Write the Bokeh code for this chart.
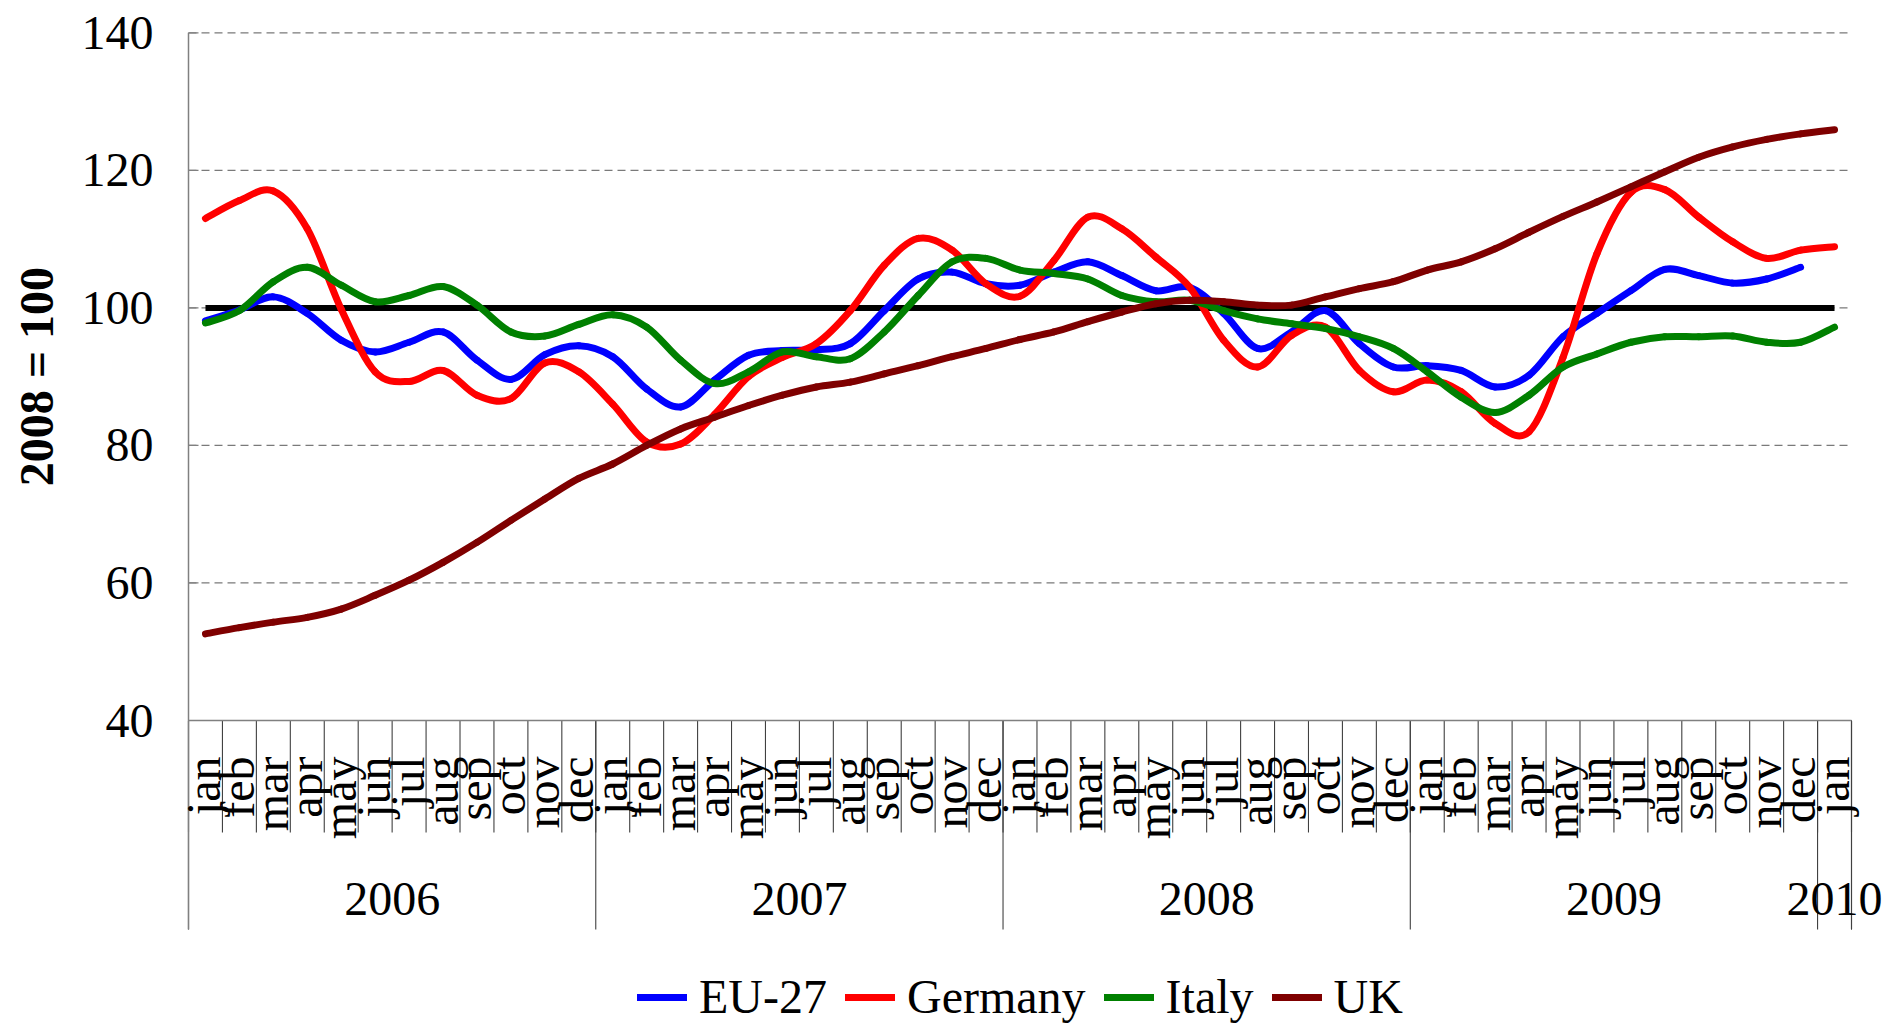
import numpy as np
from bokeh.plotting import figure
from bokeh.models import Range1d, Legend, LegendItem
from bokeh.core.properties import value
from bokeh.embed import file_html
from bokeh.resources import INLINE

# ---------------- data ----------------
months = ["jan", "feb", "mar", "apr", "may", "jun", "jul", "aug", "sep", "oct", "nov", "dec"] * 4 + ["jan"]
years = ["2006", "2007", "2008", "2009", "2010"]
months_per_year = [12, 12, 12, 12, 1]
y_ticks = [40, 60, 80, 100, 120, 140]
y_tick_labels = ["40", "60", "80", "100", "120", "140"]
grid_ticks = [60, 80, 100, 120, 140]
y_title = "2008 = 100"

eu27 = [98.1, 99.7, 101.6, 99.2, 95.3, 93.6, 95.0, 96.5, 92.4, 89.6, 93.2, 94.5,
        92.9, 88.2, 85.6, 89.5, 93.1, 93.8, 93.9, 94.8, 99.6, 104.2, 105.2, 103.5,
        103.3, 105.2, 106.7, 104.7, 102.5, 103.0, 99.2, 94.1, 96.5, 99.6, 94.8, 91.4,
        91.6, 90.9, 88.5, 90.2, 95.8, 99.2, 102.5, 105.6, 104.7, 103.6, 104.2, 105.9]
germany = [113.0, 115.6, 117.0, 111.5, 99.8, 90.7, 89.3, 90.9, 87.3, 86.8, 92.0, 90.7,
           86.0, 80.5, 80.2, 84.5, 90.0, 92.8, 94.8, 99.6, 106.2, 110.1, 108.4, 103.5,
           101.7, 106.9, 113.2, 111.5, 107.4, 103.0, 95.3, 91.4, 96.0, 97.2, 90.9, 87.8,
           89.5, 87.8, 83.2, 82.0, 92.8, 107.9, 116.8, 117.2, 113.2, 109.6, 107.2, 108.4, 108.9]
italy = [97.8, 99.6, 103.8, 105.9, 103.3, 100.9, 101.8, 103.1, 100.4, 96.5, 95.9, 97.6,
         99.0, 97.2, 92.4, 89.0, 90.7, 93.6, 92.9, 92.6, 96.5, 101.8, 106.7, 107.2,
         105.5, 105.0, 104.2, 101.8, 100.9, 101.1, 99.6, 98.4, 97.7, 97.0, 95.8, 94.1,
         90.7, 87.0, 84.8, 87.3, 91.4, 93.3, 95.0, 95.8, 95.8, 95.9, 95.0, 95.0, 97.2]
uk = [52.6, 53.5, 54.3, 55.0, 56.2, 58.2, 60.4, 63.0, 65.9, 69.1, 72.2, 75.2,
      77.3, 80.0, 82.4, 84.1, 85.8, 87.3, 88.5, 89.2, 90.4, 91.6, 92.9, 94.1,
      95.4, 96.5, 98.0, 99.4, 100.6, 101.1, 100.9, 100.4, 100.4, 101.6, 102.8, 103.8,
      105.5, 106.7, 108.6, 111.0, 113.3, 115.4, 117.6, 119.8, 121.9, 123.4, 124.5, 125.3, 125.9]
base = [100] * 49

series = [("EU-27", eu27, "#0000ff"), ("Germany", germany, "#ff0000"),
          ("Italy", italy, "#008000"), ("UK", uk, "#7f0000")]

# ---------------- geometry (page pixels) ----------------
W, H = 1885, 1024
AXIS_COL_PX = 188                 # page column of the value axis
PLOT_RIGHT = 1851                 # right end of the category area
N = len(months)
PXM = (PLOT_RIGHT - AXIS_COL_PX) / N  # px per month
Y140 = 32.3                       # pixel row of the 140 line
PXU = 687.7 / 100.0               # px per value unit
Y_END = 140 + Y140 / PXU
Y_START = Y_END - H / PXU
X_START = -AXIS_COL_PX / PXM
X_END = (W - AXIS_COL_PX) / PXM
MID = 16                          # baseline -> text middle, px (48px font)


def ydat(r):
    """pixel row -> data value"""
    return 140 - (r - Y140) / PXU


def xoff(px):
    """horizontal pixel distance -> months"""
    return px / PXM


FONT = value("Liberation Serif")
AX_COL = "#808080"
SEP_COL = "#404040"

p = figure(width=W, height=H, output_backend="svg", toolbar_location=None,
           x_range=Range1d(X_START, X_END), y_range=Range1d(Y_START, Y_END),
           x_axis_location=None, y_axis_location=None, title=None,
           min_border_left=0, min_border_right=0, min_border_top=0, min_border_bottom=0)
p.outline_line_color = None
p.background_fill_color = "white"
p.border_fill_color = "white"
p.grid.visible = False

# dashed horizontal gridlines over the category area
p.segment(x0=[0] * len(grid_ticks), y0=grid_ticks, x1=[N] * len(grid_ticks), y1=grid_ticks,
          line_color="#7a7a7a", line_width=1.2, line_dash="8 5")

# value axis: line, inward ticks, labels, title
p.segment(x0=[0] * len(y_ticks), y0=y_ticks, x1=[xoff(10)] * len(y_ticks), y1=y_ticks,
          line_color=AX_COL, line_width=1.2)
p.text(x=[xoff(-35)] * len(y_ticks), y=y_ticks, text=y_tick_labels, text_align="right",
       text_baseline="middle", text_font=FONT, text_font_size="48px", text_color="black")
p.text(x=[xoff(52 - MID - AXIS_COL_PX)], y=[(y_ticks[0] + y_ticks[-1]) / 2], text=[y_title],
       angle=np.pi / 2, text_align="center", text_baseline="middle", text_font=FONT,
       text_font_style="bold", text_font_size="48px", text_color="black")

# category axis line and separators
x_bounds = np.arange(N + 1)
p.segment(x0=x_bounds, y0=[y_ticks[0]] * len(x_bounds), x1=x_bounds,
          y1=[ydat(832)] * len(x_bounds), line_color=SEP_COL, line_width=1.1)
year_starts = np.concatenate([[0], np.cumsum(months_per_year)])
year_lines = np.concatenate([year_starts, [N]])
p.segment(x0=year_lines, y0=[y_ticks[0]] * len(year_lines), x1=year_lines,
          y1=[ydat(929)] * len(year_lines), line_color=SEP_COL, line_width=1.1)
p.segment(x0=[0], y0=[y_ticks[-1]], x1=[0], y1=[ydat(929)], line_color=AX_COL, line_width=1.5)
p.segment(x0=[0], y0=[y_ticks[0]], x1=[N], y1=[y_ticks[0]], line_color=AX_COL, line_width=1.5)

# month and year labels
centers = np.arange(N) + 0.5
p.text(x=centers + xoff(14 - MID), y=[ydat(756)] * N, text=months, angle=np.pi / 2,
       text_align="right", text_baseline="middle", text_font=FONT,
       text_font_size="48px", text_color="black")
year_centers = year_starts[:-1] + np.array(months_per_year) / 2
p.text(x=year_centers, y=[ydat(914 - MID)] * len(years), text=years, text_align="center",
       text_baseline="middle", text_font=FONT, text_font_size="48px", text_color="black")


def bezier_parts(xs, ys):
    xs = np.asarray(xs, float)
    ys = np.asarray(ys, float)
    n = len(xs)
    xp = np.concatenate([[xs[0]], xs, [xs[-1]]])
    yp = np.concatenate([[ys[0]], ys, [ys[-1]]])
    cx0 = xp[1:n] + (xp[2:n + 1] - xp[0:n - 1]) / 6
    cy0 = yp[1:n] + (yp[2:n + 1] - yp[0:n - 1]) / 6
    cx1 = xp[2:n + 1] - (xp[3:n + 2] - xp[1:n]) / 6
    cy1 = yp[2:n + 1] - (yp[3:n + 2] - yp[1:n]) / 6
    return dict(x0=xs[:-1], y0=ys[:-1], x1=xs[1:], y1=ys[1:],
                cx0=cx0, cy0=cy0, cx1=cx1, cy1=cy1)


# base line at 100
p.line(x=centers[:len(base)], y=base, line_color="black", line_width=6, line_cap="butt")

items = []
for name, vals, col in series:
    xs = centers[:len(vals)]
    r = p.bezier(**bezier_parts(xs, vals), line_color=col, line_width=7, line_cap="round")
    items.append(LegendItem(label=name, renderers=[r]))

leg = Legend(items=items, orientation="horizontal", location=(637, 0),
             glyph_width=50, glyph_height=40, label_standoff=12, spacing=18,
             padding=0, margin=0, border_line_color=None, background_fill_alpha=0,
             label_text_font="Liberation Serif", label_text_font_size="48px",
             label_text_color="black")
p.add_layout(leg)

open("out.html", "w").write(file_html(p, INLINE))
